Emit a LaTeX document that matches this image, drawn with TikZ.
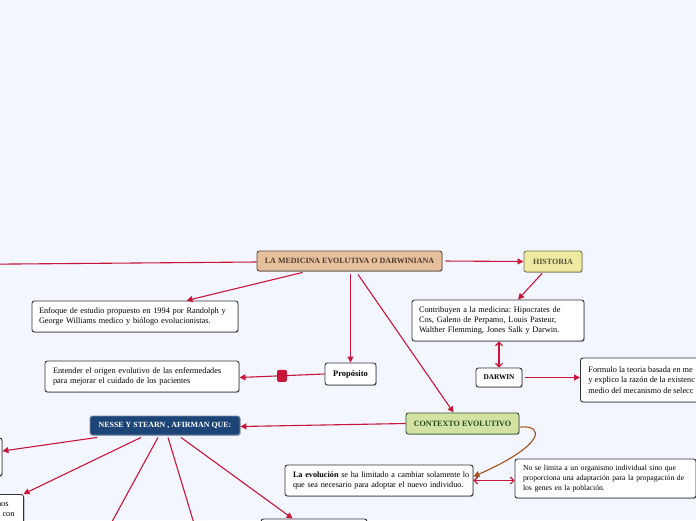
\documentclass[tikz,border=0pt]{standalone}
\usepackage{fontspec}
\setmainfont{Liberation Serif}
\frenchspacing
\usetikzlibrary{arrows.meta,shadows,calc}
\definecolor{bg}{HTML}{F3F6FE}
\definecolor{linered}{HTML}{C8163A}
\definecolor{curvebrown}{HTML}{A0521E}
\definecolor{boxborder}{HTML}{333333}
\definecolor{mainfill}{HTML}{E6BF9C}
\definecolor{mainborder}{HTML}{5E4A3C}
\definecolor{maintext}{HTML}{4E3B2E}
\definecolor{histfill}{HTML}{EEEAA2}
\definecolor{histborder}{HTML}{7A7850}
\definecolor{histtext}{HTML}{55553A}
\definecolor{ctxfill}{HTML}{D3E2A3}
\definecolor{ctxborder}{HTML}{2E5A34}
\definecolor{ctxtext}{HTML}{1F4A22}
\definecolor{nessefill}{HTML}{1D4477}
\begin{document}
\begin{tikzpicture}[x=1pt,y=-1pt,
  shade/.style={drop shadow={shadow xshift=0.7pt,shadow yshift=-0.9pt,opacity=0.25,fill=black}},
  box/.style={shade,draw=boxborder,fill=white,rounded corners=2.5pt,line width=0.9pt,
    font=\fontsize{8.3}{9.8}\selectfont,inner xsep=7pt,inner ysep=0pt,align=left},
  head/.style={shade,rounded corners=2.5pt,line width=0.9pt,inner sep=0pt,
    font=\fontsize{8}{9}\selectfont\bfseries,align=center},
  mainbox/.style={head,draw=mainborder,fill=mainfill,text=maintext},
  histbox/.style={head,draw=histborder,fill=histfill,text=histtext},
  ctxbox/.style={head,draw=ctxborder,fill=ctxfill,text=ctxtext,font=\fontsize{8.1}{9}\selectfont\bfseries},
  nessebox/.style={head,draw=nessefill!60!white,fill=nessefill,text=white,font=\fontsize{7.9}{9}\selectfont\bfseries},
  smallbox/.style={head,draw=boxborder,fill=white,text=black},
  conn/.style={draw=linered,line width=1.1pt,-{Triangle[length=6pt,width=6pt]}},
  dconn/.style={draw=linered,line width=1.1pt,{Straight Barb[length=3.5pt,width=7pt]}-{Straight Barb[length=3.5pt,width=7pt]}},
  bconn/.style={draw=curvebrown,line width=1.1pt,-{Triangle[length=6pt,width=6pt]}},
  marker/.style={fill=linered,rounded corners=1.5pt,minimum width=10pt,minimum height=12pt,inner sep=0pt}
]
\fill[bg] (0,0) rectangle (696,520);
\useasboundingbox (0,0) rectangle (696,520);

% nodes
\node[mainbox,minimum width=185pt,minimum height=20pt] (main) at (349.5,261) {LA MEDICINA EVOLUTIVA O DARWINIANA};
\node[histbox,minimum width=58pt,minimum height=21pt] (historia) at (553,261.5) {HISTORIA};
\node[box,text width=158pt,minimum height=41pt] (contrib) at (498,320.5) {\mbox{Contribuyen a la medicina: Hipocrates de}\\\mbox{Cos, Galeno de Perpamo, Louis Pasteur,}\\\mbox{Walther Flemming, Jones Salk y Darwin.}};
\node[smallbox,minimum width=46pt,minimum height=19pt,font=\fontsize{7.3}{8}\selectfont\bfseries] (darwin) at (499,377.5) {DARWIN};
\node[box,anchor=west,minimum height=44pt,inner xsep=8pt,font=\fontsize{8.3}{10.8}\selectfont] (formulo) at (580,380) {Formulo la teoria basada en me\\y explico la razón de la existenc\\medio del mecanismo de selecc};
\node[box,text width=192pt,minimum height=31pt] (enfoque) at (135,316.5) {\mbox{Enfoque de estudio propuesto en 1994 por Randolph y}\\\mbox{George Williams medico y biólogo evolucionistas.}};
\node[box,text width=178pt,minimum height=31pt,inner xsep=8pt] (entender) at (142,376.5) {\mbox{Entender el origen evolutivo de las enfermedades}\\\mbox{para mejorar el cuidado de los pacientes}};
\node[smallbox,minimum width=51pt,minimum height=22pt,font=\fontsize{8.5}{9}\selectfont\bfseries] (proposito) at (350.5,374) {Propósito};
\node[ctxbox,minimum width=113pt,minimum height=21pt] (contexto) at (462.5,423.5) {CONTEXTO EVOLUTIVO};
\node[nessebox,minimum width=150pt,minimum height=19pt] (nesse) at (165,425.5) {NESSE Y STEARN , AFIRMAN QUE:};
\node[box,text width=172pt,minimum height=31pt,inner xsep=8pt,font=\fontsize{8.2}{9.8}\selectfont] (evol) at (379,480.5) {\mbox{\textbf{La evolución} se ha limitado a cambiar solamente lo}\\\mbox{que sea necesario para adoptar el nuevo individuo.}};
\node[box,text width=165pt,minimum height=39pt,inner xsep=8pt,font=\fontsize{7.7}{10}\selectfont] (nose) at (605.5,478.5) {\mbox{No se limita a un organismo individual sino que}\\\mbox{proporciona una adaptación para la propagación de}\\\mbox{los genes en la población.}};
\node[box,minimum width=102pt,minimum height=38pt] (left1) at (-49,457) {};
\node[box,anchor=north east,text width=170pt,align=right,inner xsep=9pt,inner ysep=8pt] (left2) at (24,494) {\mbox{nos}\rule{6pt}{0pt}\\\mbox{a con}\\\mbox{}\\\mbox{}};
\node[box,minimum width=106pt,minimum height=41pt] (bottom) at (314,539.5) {};
\coordinate (offL) at (-10,264.2);
\coordinate (off1) at (102,540);
\coordinate (off2) at (199,540);

% connectors
\draw[conn] ([yshift=-1pt]main.west) -- (offL);
\draw[conn,shorten <=3pt] (main.east) -- (historia.west);
\draw[conn] ([xshift=-11pt,yshift=-1pt]historia.south) -- ([xshift=20pt]contrib.north);
\draw[dconn] (darwin.north |- contrib.south) -- (darwin.north);
\draw[conn,shorten <=3pt] (darwin.east) -- (darwin.east -| formulo.west);
\draw[conn] ([xshift=46pt,yshift=-1pt]main.south west) -- ([xshift=155pt]enfoque.north west);
\draw[conn] ([yshift=-3pt]proposito.north |- main.south) -- (proposito.north);
\draw[conn] (proposito.west) -- node[marker,pos=0.5] (mk) {} ([yshift=-1pt]entender.east);
\draw[conn] ([xshift=8.5pt,yshift=-3pt]main.south) -- ([xshift=48pt]contexto.north west);
\draw[conn] (contexto.west) -- ([yshift=-1pt]nesse.east);
\draw[bconn] ([xshift=1pt,yshift=-3.5pt]contexto.east) .. controls (545,425) and (545,445) .. ([yshift=-12pt]evol.north east);
\draw[dconn] (evol.east) -- (evol.east -| nose.west);
\draw[conn] ([xshift=-68pt,yshift=-2pt]nesse.south) -- ([yshift=6pt]left1.east);
\draw[conn] ([xshift=-24pt,yshift=-2pt]nesse.south) -- ([xshift=-0.5pt]left2.north east);
\draw[conn] ([xshift=-7pt,yshift=-2pt]nesse.south) -- (off1);
\draw[conn] ([xshift=3pt,yshift=-2pt]nesse.south) -- (off2);
\draw[conn] ([xshift=16pt,yshift=-2pt]nesse.south) -- ([xshift=32pt]bottom.north west);
\end{tikzpicture}
\end{document}
